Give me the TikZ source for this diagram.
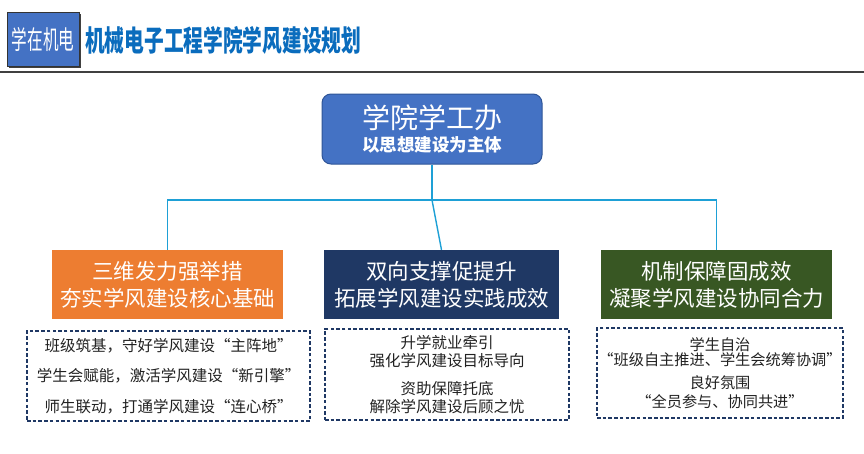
\documentclass[tikz,border=0pt]{standalone}
\usepackage{fontspec}
\setmainfont{Noto Sans CJK SC}
\usetikzlibrary{shadows}
\definecolor{tagblue}{HTML}{4472C4}
\definecolor{titleblue}{HTML}{0A6CBD}
\definecolor{topblue}{HTML}{4472C4}
\definecolor{topedge}{HTML}{2F5597}
\definecolor{connblue}{HTML}{1EA0D6}
\definecolor{orangebox}{HTML}{ED7D31}
\definecolor{navybox}{HTML}{1F3864}
\definecolor{greenbox}{HTML}{385723}
\definecolor{dashnavy}{HTML}{1F3864}
\definecolor{rulegray}{HTML}{404040}
\definecolor{bodytext}{HTML}{222222}
\tikzset{
  tagbox/.style={fill=tagblue, draw=black!80, line width=0.6pt, minimum width=72, minimum height=54, inner sep=0pt, text=white,
    drop shadow={shadow xshift=2pt, shadow yshift=-2pt, fill=black!75, opacity=1}},
  topbox/.style={fill=topblue, draw=topedge, line width=1pt, rounded corners=9pt, minimum width=220, minimum height=70, inner sep=0pt, text=white, align=center},
  headbox/.style={minimum width=232, minimum height=69, inner sep=0pt, text=white, align=center, font=\fontsize{21.5}{27}\selectfont},
  dashbox/.style={draw=dashnavy, line width=1.4pt, dash pattern=on 3.5pt off 2.2pt, inner sep=0pt, align=center, text=bodytext},
  conn/.style={draw=connblue, line width=1.4pt}
}
\begin{document}
\begin{tikzpicture}[x=1pt,y=-1pt]
\useasboundingbox[fill=white] (0,0) rectangle (864,453);
% header
\node[tagbox] (tag) at (43,39) {\scalebox{0.6}[1]{\fontsize{26}{26}\selectfont 学在机电}};
\node[anchor=west, text=titleblue, inner sep=0pt] (title) at (85,40) {\scalebox{0.68}[1]{\fontsize{29}{29}\selectfont\bfseries 机械电子工程学院学风建设规划}};
\coordinate (ruleL) at (0,72);
\coordinate (ruleR) at (864,72);
\draw[rulegray, line width=1.5pt] (ruleL) -- (ruleR);
% top node
\node[topbox] (top) at (432,129) {{\fontsize{28}{30}\selectfont 学院学工办}\\[4pt]{\fontsize{17.5}{20}\selectfont\bfseries 以思想建设为主体}};
% heading boxes
\node[headbox, fill=orangebox, minimum width=231] (b1) at (167.5,284.5) {三维发力强举措\\夯实学风建设核心基础};
\node[headbox, fill=navybox, minimum width=235] (b2) at (441.5,284.5) {双向支撑促提升\\拓展学风建设实践成效};
\node[headbox, fill=greenbox, minimum width=231] (b3) at (716.5,284.5) {机制保障固成效\\凝聚学风建设协同合力};
% connectors
\coordinate (hub) at (top.south |- 0,200);
\draw[conn] (top.south) -- (hub);
\draw[conn] (b1.north) -- (b1.north |- hub) -| (b3.north);
\draw[conn] (hub) -- (b2.north);
% dashed boxes
\node[dashbox, minimum width=283, minimum height=90, font=\fontsize{15.5}{30.5}\selectfont] (d1) at (168.5,376)
  {班级筑基，守好学风建设“主阵地”\\学生会赋能，激活学风建设“新引擎”\\师生联动，打通学风建设“连心桥”};
\node[dashbox, minimum width=244, minimum height=91, font=\fontsize{15.5}{18}\selectfont] (d2) at (447,374.5)
  {升学就业牵引\\强化学风建设目标导向\\[10pt]资助保障托底\\解除学风建设后顾之忧};
\node[dashbox, minimum width=246, minimum height=90, font=\fontsize{15.2}{15.5}\selectfont] (d3) at (720,373)
  {学生自治\\“班级自主推进、学生会统筹协调”\\[7.5pt]良好氛围\\[3.5pt]“全员参与、协同共进”};
\end{tikzpicture}
\end{document}
